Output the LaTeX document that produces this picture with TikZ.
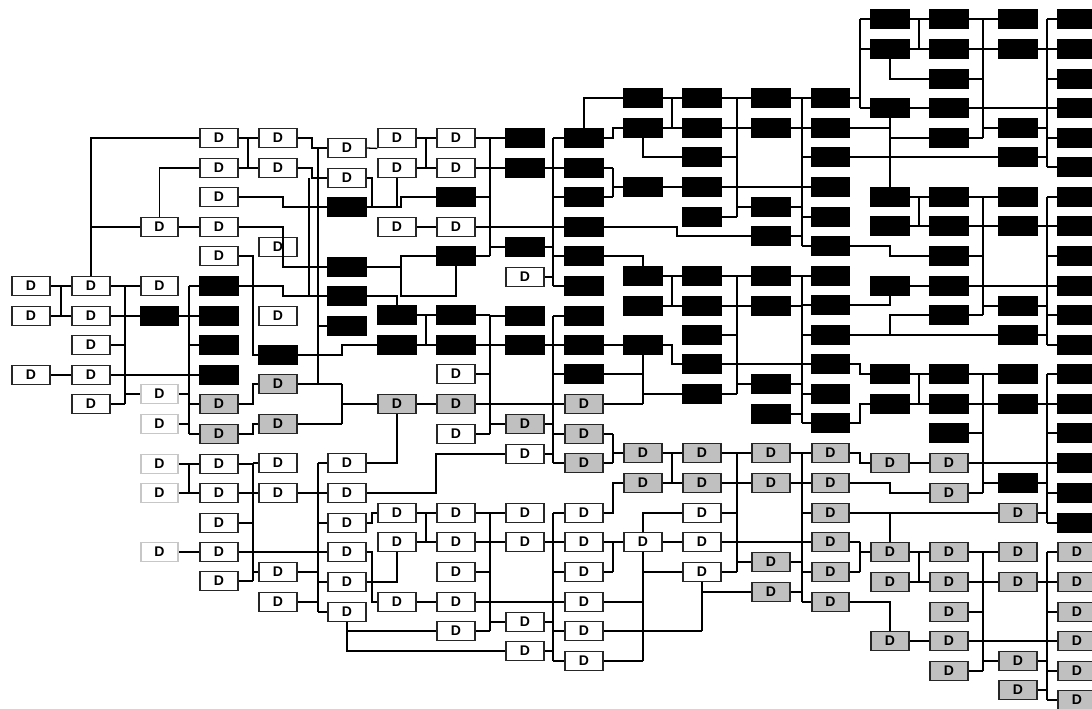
\documentclass[tikz,border=0pt]{standalone}
\usepackage{fontspec}
\setmainfont{Liberation Sans}
\definecolor{boxgray}{RGB}{192,192,192}
\tikzset{
  bxbase/.style={draw, line width=1.9pt, minimum width=37.6pt, minimum height=19pt, inner sep=0pt, font=\fontsize{14}{14}\selectfont\bfseries},
  wbx/.style={bxbase, fill=white, draw=black!85},
  lbx/.style={bxbase, fill=white, draw=black!22},
  gbx/.style={bxbase, fill=boxgray, draw=black!85},
  bbx/.style={bxbase, fill=black, draw=black},
}
\newcommand\lbw{D}\newcommand\lbl{D}\newcommand\lbg{D}\newcommand\lbb{}
\newcommand\colm[3]{%
  \foreach \y/\t in {#3}{%
    \edef\tmpn{\noexpand\node[\t bx] (#2y\y) at (#1,\y) {\csname lb\t\endcsname};}%
    \tmpn}}
% bus: x, ytop, ybot, left nodes, right nodes
\newcommand\busln[5]{%
  \coordinate (bx) at (#1,0);
  \draw (#1,#2) -- (#1,#3);
  \foreach \n in {#4}{\draw (\n.east) -- (\n.east -| bx);}
  \foreach \n in {#5}{\draw (\n.west -| bx) -- (\n.west);}}
\begin{document}
\begin{tikzpicture}[x=1pt,y=-1pt,line width=1.3pt]
\useasboundingbox (0,0) rectangle (1092,709);
\colm{31}{c0}{286/w,316/w,375/w}
\colm{91}{c1}{286/w,316/w,345/w,375/w,404/w}
\colm{159.5}{c2}{227/w,286/w,316/b,394/l,424/l,464/l,493/l,552/l}
\colm{219}{c3}{138/w,168/w,197/w,227/w,256/w,286/b,316/b,345/b,375/b,404/g,434/g,464/w,493/w,523/w,552/w,581/w}
\colm{278}{c4}{138/w,168/w,247/w,316/w,355/b,384/g,424/g,463/w,493/w,572/w,602/w}
\colm{347}{c5}{148/w,178/w,207/b,267/b,296/b,326/b,463/w,493/w,523/w,552/w,582/w,612/w}
\colm{397}{c6}{138/w,168/w,227/w,315/b,345/b,404/g,513/w,542/w,602/w}
\colm{456}{c7}{138/w,168/w,197/b,227/w,256/b,315/b,345/b,374/w,404/g,434/w,513/w,542/w,572/w,602/w,631/w}
\colm{525}{c8}{138/b,168/b,247/b,277/w,316/b,345/b,424/g,454/w,513/w,542/w,622/w,651/w}
\colm{584}{c9}{138/b,168/b,197/b,227/b,256/b,286/b,316/b,345/b,374/b,404/g,434/g,463/g,513/w,542/w,572/w,602/w,631/w,661/w}
\colm{643}{c10}{98/b,128/b,187/b,276/b,306/b,345/b,453/g,483/g,542/w}
\colm{702}{c11}{98/b,128/b,157/b,187/b,217/b,276/b,306/b,335/b,364/b,394/b,453/g,483/g,513/w,542/w,572/w}
\colm{771}{c12}{98/b,128/b,207/b,236/b,276/b,306/b,384/b,414/b,453/g,483/g,562/g,592/g}
\colm{830.5}{c13}{98/b,128/b,157/b,187/b,217/b,246/b,276/b,305/b,335/b,364/b,394/b,423/b,453/g,483/g,513/g,542/g,572/g,602/g}
\colm{890}{c14}{19/b,49/b,108/b,197/b,226/b,286/b,374/b,404/b,463/g,552/g,582/g,641/g}
\colm{949}{c15}{19/b,49/b,79/b,108/b,138/b,197/b,226/b,256/b,286/b,315/b,374/b,404/b,433/b,463/g,493/g,552/g,582/g,612/g,641/g,671/g}
\colm{1018}{c16}{19/b,49/b,128/b,157/b,197/b,226/b,306/b,335/b,374/b,404/b,483/b,513/g,552/g,582/g,661/g,690/g}
\colm{1077}{c17}{19/b,49/b,79/b,108/b,138/b,167/b,197/b,226/b,256/b,286/b,315/b,345/b,374/b,404/b,433/b,463/b,493/b,523/b,552/g,582/g,612/g,641/g,671/g,700/g}
% gap 0-1
\busln{61}{286}{316}{c0y286,c0y316}{c1y286,c1y316}
\draw (c0y375.east) -- (c1y375.west);
\draw (c1y286.north) |- (c3y138.west);
\draw (c1y286.north |- c2y227.west) -- (c2y227.west);
\draw (c2y227.north) |- (c3y168.west);
\draw (c2y227.east) -- (c3y227.west);
\busln{125}{286}{404}{c1y286,c1y316,c1y345,c1y404}{c2y286,c2y316,c2y394}
\draw (c1y375.east) -- (c3y375.west);
\busln{189}{286}{434}{c2y316,c2y394,c2y424}{c3y286,c3y316,c3y345,c3y404,c3y434}
\busln{189}{464}{493}{c2y464,c2y493}{c3y464,c3y493}
\draw (c2y552.east) -- (c3y552.west);
% gap 3-4
\busln{248}{138}{168}{c3y138,c3y168}{c4y138,c4y168}
\draw (c3y197.east) -- (283,197) |- (c5y207.west);
\draw (c3y227.east) -- (283,227) |- (c5y267.west);
\draw (c3y256.east) -- (253,256) |- (c4y355.west);
\draw (c3y286.east) -- (283,286) |- (c5y296.west);
\draw (c3y404.east) -- (253,404) |- (c4y384.west);
\draw (c3y434.east) -- (253,434) |- (c4y424.west);
\busln{253}{464}{581}{c3y464,c3y493,c3y523,c3y581}{c4y463,c4y493,c4y572}
\draw (c3y552.east) -- (c5y552.west);
% gap 4-5
\draw (c4y138.east) -- (312,138) |- (c5y148.west);
\draw (c4y168.east) -- (312,168) |- (c5y178.west);
\draw (309,178) -- (309,296);
\draw (318,148) -- (318,384);
\draw (318,326) -- (c5y326.west);
\draw (c4y355.east) -- (342,355) |- (c6y345.west);
\busln{342}{384}{424}{c4y384,c4y424}{c6y404}
\busln{318}{463}{612}{c4y493,c4y572,c4y602}{c5y463,c5y493,c5y523,c5y552,c5y582,c5y612}
% gap 5-7
\draw (c5y148.east) -- (c6y138.south west);
\draw (c5y178.east) -- (372,178) -- (372,207);
\draw (c5y207.east) -- (401,207) |- (c7y197.west);
\draw (c6y168.south) -- (c6y168.south |- c5y207.east);
\draw (c5y267.east) -- (401,267) |- (c7y256.west);
\draw (401,267) -- (401,296) -| (c7y256.south);
\draw (c5y296.east) -| (c6y315.north);
\busln{426}{138}{168}{c6y138,c6y168}{c7y138,c7y168}
\draw (c6y227.east) -- (c7y227.west);
\busln{426}{315}{345}{c6y315,c6y345}{c7y315,c7y345}
\draw (c6y404.east) -- (c7y404.west);
\draw (c5y463.east) -| (c6y404.south);
\draw (c5y493.east) -- (436,493) |- (c8y454.west);
\draw (c5y523.east) -- (372,523) |- (c6y513.west);
\busln{426}{513}{542}{c6y513,c6y542}{c7y513,c7y542}
\draw (c5y552.east) -- (372,552) |- (c6y602.west);
\draw (c5y582.east) -| (c6y542.south);
\draw (c6y602.east) -- (c7y602.west);
\draw (c5y612.south) |- (c7y631.west);
\draw (c5y612.south) |- (c8y651.west);
% gap 7-8
\busln{490}{138}{256}{c7y138,c7y168,c7y197,c7y227,c7y256}{c8y138,c8y168,c8y247}
\draw (c7y227.east) -- (c9y227.west);
\busln{490}{315}{434}{c7y315,c7y345,c7y374,c7y404,c7y434}{c8y316,c8y345,c8y424}
\draw (c7y404.east) -- (c9y404.west);
\busln{490}{513}{631}{c7y513,c7y542,c7y572,c7y631}{c8y513,c8y542,c8y622}
\draw (c7y602.east) -- (c9y602.west);
% gap 8-9
\busln{553}{138}{286}{c8y168,c8y247,c8y277}{c9y138,c9y168,c9y197,c9y256,c9y286}
\busln{553}{316}{463}{c8y345,c8y424,c8y454}{c9y316,c9y345,c9y374,c9y434,c9y463}
\busln{553}{513}{661}{c8y542,c8y622,c8y651}{c9y513,c9y542,c9y572,c9y631,c9y661}
% gap 9-10
\draw (c9y138.north) |- (c10y98.west);
\draw (c9y138.east) -- (613,138) |- (c10y128.west);
\busln{613}{168}{197}{c9y168,c9y197}{c10y187}
\draw (c9y227.east) -- (677,227) |- (c12y236.west);
\draw (c9y256.east) -| (c10y276.north);
\draw (c9y345.east) -- (c10y345.west);
\draw (c10y345.south) -- (643,404);
\draw (c9y374.east) -- (643,374);
\draw (c9y404.east) -- (643,404);
\draw (643,394) -- (c11y394.west);
\draw (c10y345.east) -- (672,345) |- (c11y364.west);
\busln{613}{434}{463}{c9y434,c9y463}{c10y453}
\draw (c9y513.east) -- (613,513) |- (c10y483.west);
\busln{613}{542}{572}{c9y542,c9y572}{c10y542}
\draw (c10y542.north) |- (c11y513.west);
\draw (c10y542.east) -- (c11y542.west);
\draw (c10y542.south) -- (643,661);
\draw (643,572) -- (c11y572.west);
\draw (c9y602.east) -- (643,602);
\draw (c9y661.east) -- (643,661);
\draw (c11y572.south) -- (702,631);
\draw (702,592) -- (c12y592.west);
\draw (c9y631.east) -- (702,631);
% gap 10-11
\busln{672}{98}{128}{c10y98,c10y128}{c11y98,c11y128}
\draw (c10y128.south) |- (c11y157.west);
\draw (c10y187.east) -- (c11y187.west);
\draw (c11y187.east) -- (c13y187.west);
\busln{672}{276}{306}{c10y276,c10y306}{c11y276,c11y306}
\busln{672}{453}{483}{c10y453,c10y483}{c11y453,c11y483}
% gap 11-12
\busln{737}{98}{217}{c11y98,c11y128,c11y157,c11y217}{c12y98,c12y128,c12y207}
\busln{737}{276}{394}{c11y276,c11y306,c11y335,c11y394}{c12y276,c12y306,c12y384}
\draw (c11y364.east) -- (c13y364.west);
\busln{737}{453}{572}{c11y453,c11y483,c11y513,c11y572}{c12y453,c12y483,c12y562}
\draw (c11y542.east) -- (c13y542.west);
% gap 12-13
\busln{802}{98}{246}{c12y98,c12y128,c12y207,c12y236}{c13y98,c13y128,c13y157,c13y217,c13y246}
\busln{802}{276}{423}{c12y276,c12y306,c12y384,c12y414}{c13y276,c13y305,c13y335,c13y394,c13y423}
\busln{802}{453}{602}{c12y453,c12y483,c12y562,c12y592}{c13y453,c13y483,c13y513,c13y572,c13y602}
% gap 13-14
\busln{860}{19}{108}{c13y98}{c14y19,c14y49,c14y108}
\draw (c14y108.south) -- (c14y197.north);
\draw (c13y128.east) -- (890,128);
\draw (890,138) -- (c15y138.west);
\draw (c13y157.east) -- (c16y157.west);
\draw (c13y246.east) -- (890,246) |- (c15y256.west);
\draw (c13y305.east) -| (c14y286.south);
\draw (c13y335.east) -- (c16y335.west);
\draw (890,335) |- (c15y315.west);
\draw (c13y364.east) -- (860,364) |- (c14y374.west);
\draw (c13y423.east) -- (860,423) |- (c14y404.west);
\draw (c13y453.east) -- (860,453) |- (c14y463.west);
\draw (c13y483.east) -- (890,483) |- (c15y493.west);
\draw (c13y513.east) -- (c16y513.west);
\draw (890,513) -- (c14y552.north);
\busln{860}{542}{572}{c13y542,c13y572}{c14y552}
\draw (c13y602.east) -| (c14y641.north);
% gap 14-15
\busln{919}{19}{49}{c14y19,c14y49}{c15y19,c15y49}
\draw (c14y49.south) |- (c15y79.west);
\draw (c14y108.east) -- (c15y108.west);
\draw (c15y108.east) -- (c17y108.west);
\busln{919}{197}{226}{c14y197,c14y226}{c15y197,c15y226}
\draw (c14y286.east) -- (c15y286.west);
\draw (c15y286.east) -- (c17y286.west);
\busln{919}{374}{404}{c14y374,c14y404}{c15y374,c15y404}
\draw (c14y463.east) -- (c15y463.west);
\draw (c15y463.east) -- (c17y463.west);
\busln{919}{552}{582}{c14y552,c14y582}{c15y552,c15y582}
\draw (c14y641.east) -- (c15y641.west);
\draw (c15y641.east) -- (c17y641.west);
% gap 15-16
\busln{983}{19}{138}{c15y19,c15y49,c15y79,c15y108,c15y138}{c16y19,c16y49,c16y128}
\busln{983}{197}{315}{c15y197,c15y226,c15y256,c15y315}{c16y197,c16y226,c16y306}
\busln{983}{374}{493}{c15y374,c15y404,c15y433,c15y493}{c16y374,c16y404,c16y483}
\busln{983}{552}{671}{c15y552,c15y582,c15y612,c15y671}{c16y552,c16y582,c16y661}
% gap 16-17
\busln{1047}{19}{167}{c16y49,c16y128,c16y157}{c17y19,c17y49,c17y79,c17y138,c17y167}
\busln{1047}{197}{345}{c16y226,c16y306,c16y335}{c17y197,c17y226,c17y256,c17y315,c17y345}
\busln{1047}{374}{523}{c16y404,c16y483,c16y513}{c17y374,c17y404,c17y433,c17y493,c17y523}
\busln{1047}{552}{700}{c16y582,c16y661,c16y690}{c17y552,c17y582,c17y612,c17y671,c17y700}
\end{tikzpicture}
\end{document}
